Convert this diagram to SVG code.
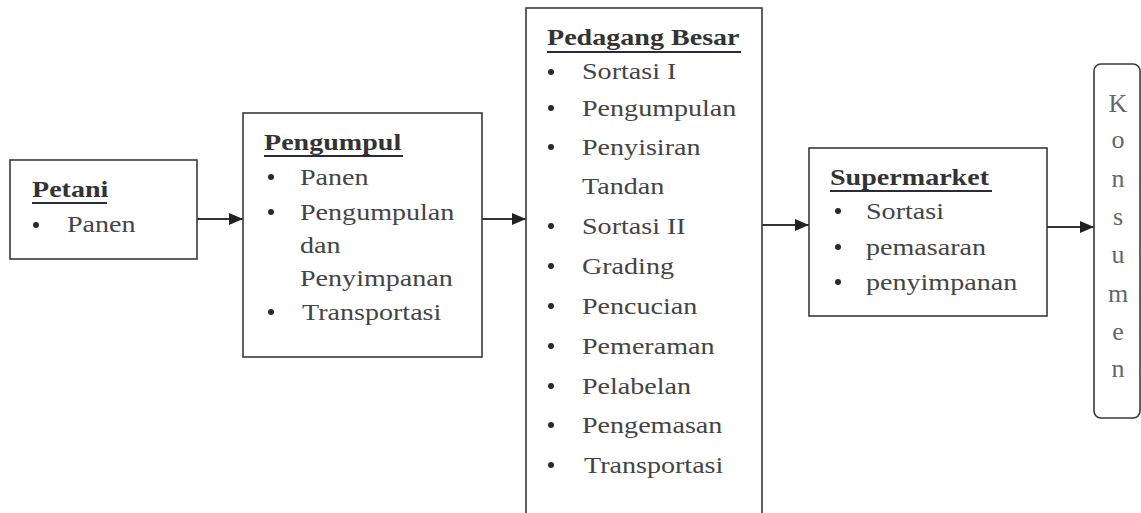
<svg xmlns="http://www.w3.org/2000/svg" width="1141" height="513" viewBox="0 0 1141 513">
<style>
.box{fill:#fff;stroke:#3a3a3a;stroke-width:1.6}
.t{font-family:"Liberation Serif","Times New Roman",serif;font-size:24px;fill:#444}
.h{font-family:"Liberation Serif","Times New Roman",serif;font-size:24px;font-weight:bold;fill:#333}
.ul{stroke:#2a2a3a;stroke-width:2}
.b{fill:#2a2a2a}
.c{stroke:#333;stroke-width:2;fill:none;marker-end:url(#ah)}
.k{font-family:"Liberation Serif","Times New Roman",serif;font-size:26px;fill:#666;text-anchor:middle}
</style>
<defs>
<marker id="ah" viewBox="0 0 14 12" refX="14" refY="6" markerWidth="14" markerHeight="12" markerUnits="userSpaceOnUse" orient="auto">
<path d="M0,0 L14,6 L0,12 Z" fill="#222"/>
</marker>
</defs>
<rect width="1141" height="513" fill="#fff"/>

<g id="connectors">
<line class="c" x1="197" y1="219" x2="243" y2="219"/>
<line class="c" x1="482" y1="219" x2="526" y2="219"/>
<line class="c" x1="762" y1="225" x2="809" y2="225"/>
<line class="c" x1="1047" y1="227" x2="1094" y2="227"/>
</g>

<g id="petani">
<rect class="box" x="10" y="160" width="187" height="99"/>
<text class="h" transform="translate(32 197) scale(1.17 1)">Petani</text>
<line class="ul" x1="32" y1="203" x2="107" y2="203"/>
<circle class="b" cx="36" cy="225" r="3"/>
<text class="t" transform="translate(67 232) scale(1.17 1)">Panen</text>
</g>

<g id="pengumpul">
<rect class="box" x="243" y="113" width="239" height="244"/>
<text class="h" transform="translate(264 150) scale(1.17 1)">Pengumpul</text>
<line class="ul" x1="264" y1="156" x2="403" y2="156"/>
<circle class="b" cx="271" cy="177" r="3"/>
<text class="t" transform="translate(300 185) scale(1.17 1)">Panen</text>
<circle class="b" cx="271" cy="212" r="3"/>
<text class="t" transform="translate(300 220) scale(1.17 1)">Pengumpulan</text>
<text class="t" transform="translate(300 253) scale(1.17 1)">dan</text>
<text class="t" transform="translate(300 286) scale(1.17 1)">Penyimpanan</text>
<circle class="b" cx="271" cy="312" r="3"/>
<text class="t" transform="translate(302 320) scale(1.17 1)">Transportasi</text>
</g>

<g id="pedagang-besar">
<rect class="box" x="526" y="8" width="236" height="520"/>
<text class="h" transform="translate(547 45) scale(1.17 1)">Pedagang Besar</text>
<line class="ul" x1="547" y1="52" x2="741" y2="52"/>
<circle class="b" cx="551" cy="72" r="3"/>
<text class="t" transform="translate(582 79) scale(1.17 1)">Sortasi I</text>
<circle class="b" cx="551" cy="108" r="3"/>
<text class="t" transform="translate(582 116) scale(1.17 1)">Pengumpulan</text>
<circle class="b" cx="551" cy="147" r="3"/>
<text class="t" transform="translate(582 155) scale(1.17 1)">Penyisiran</text>
<text class="t" transform="translate(582 194) scale(1.17 1)">Tandan</text>
<circle class="b" cx="551" cy="226" r="3"/>
<text class="t" transform="translate(582 234) scale(1.17 1)">Sortasi II</text>
<circle class="b" cx="551" cy="266" r="3"/>
<text class="t" transform="translate(582 274) scale(1.17 1)">Grading</text>
<circle class="b" cx="551" cy="306" r="3"/>
<text class="t" transform="translate(582 314) scale(1.17 1)">Pencucian</text>
<circle class="b" cx="551" cy="346" r="3"/>
<text class="t" transform="translate(582 354) scale(1.17 1)">Pemeraman</text>
<circle class="b" cx="551" cy="386" r="3"/>
<text class="t" transform="translate(582 394) scale(1.17 1)">Pelabelan</text>
<circle class="b" cx="551" cy="425" r="3"/>
<text class="t" transform="translate(582 433) scale(1.17 1)">Pengemasan</text>
<circle class="b" cx="551" cy="465" r="3"/>
<text class="t" transform="translate(584 473) scale(1.17 1)">Transportasi</text>
</g>

<g id="supermarket">
<rect class="box" x="809" y="148" width="238" height="168"/>
<text class="h" transform="translate(830 185) scale(1.17 1)">Supermarket</text>
<line class="ul" x1="830" y1="191" x2="992" y2="191"/>
<circle class="b" cx="838" cy="211" r="3"/>
<text class="t" transform="translate(866 219) scale(1.17 1)">Sortasi</text>
<circle class="b" cx="838" cy="247" r="3"/>
<text class="t" transform="translate(866 255) scale(1.17 1)">pemasaran</text>
<circle class="b" cx="838" cy="282" r="3"/>
<text class="t" transform="translate(866 290) scale(1.17 1)">penyimpanan</text>
</g>

<g id="konsumen">
<rect class="box" x="1094" y="64" width="46" height="354" rx="7" ry="7"/>
<text class="k" x="1118" y="112">K</text>
<text class="k" x="1118" y="148">o</text>
<text class="k" x="1118" y="187">n</text>
<text class="k" x="1118" y="225">s</text>
<text class="k" x="1118" y="263">u</text>
<text class="k" x="1118" y="302">m</text>
<text class="k" x="1118" y="340">e</text>
<text class="k" x="1118" y="377">n</text>
</g>
</svg>
